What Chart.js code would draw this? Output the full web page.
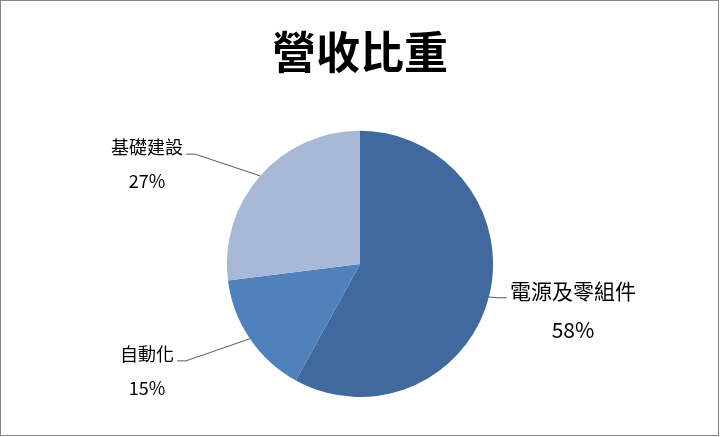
<!DOCTYPE html>
<html>
<head>
<meta charset="utf-8">
<script src="https://cdn.jsdelivr.net/npm/chart.js@4.4.0/dist/chart.umd.min.js"></script>
<style>
  html, body { margin: 0; padding: 0; background: #fff; }
  #wrap { width: 720px; height: 437px; position: relative; }
</style>
</head>
<body>
<div id="wrap"><canvas id="revenuePie"></canvas></div>
<script>
// 營收比重 data
const categories = ['電源及零組件', '自動化', '基礎建設'];
const shares = [58, 15, 27];

const sliceColors = ['#40699E', '#4F81BD', '#A8B9D8'];
const labelSizes = [21, 18, 18];
const fontFamily = '"Noto Sans CJK TC", "Noto Sans", sans-serif';

// Etiquetas fuera del pastel con línea guía (estilo Excel)
const outerLabels = {
  id: 'outerLabels',
  afterDatasetsDraw(chart) {
    const ctx = chart.ctx;
    const meta = chart.getDatasetMeta(0);
    const total = shares.reduce((a, b) => a + b, 0);
    meta.data.forEach((arc, i) => {
      const { x, y, startAngle, endAngle, outerRadius: r } =
        arc.getProps(['x', 'y', 'startAngle', 'endAngle', 'outerRadius'], true);
      const mid = (startAngle + endAngle) / 2;
      const dx = Math.cos(mid), dy = Math.sin(mid);
      const side = dx < 0 ? -1 : 1;
      const size = labelSizes[i];
      const tx = x + side * r * 1.6;
      const ty = y + r * dy * (0.5 + 1.25 * Math.abs(dy));

      ctx.save();
      ctx.font = size + 'px ' + fontFamily;
      const w = ctx.measureText(categories[i]).width;
      const ex = x + r * dx, ey = y + r * dy;
      const sx = tx - side * (w / 2 + 3);
      const ly = ty + 7;
      ctx.strokeStyle = '#595959';
      ctx.lineWidth = 1;
      ctx.beginPath();
      ctx.moveTo(sx, ly);
      ctx.lineTo(sx - side * 9, ly);
      ctx.lineTo(ex, ey);
      ctx.stroke();

      ctx.fillStyle = '#000';
      ctx.textAlign = 'center';
      ctx.textBaseline = 'middle';
      ctx.fillText(categories[i], tx, ty);
      ctx.fillText(Math.round(shares[i] / total * 100) + '%', tx, ty + size * 1.88);
      ctx.restore();
    });
  }
};

const frame = {
  id: 'frame',
  beforeDraw(chart) {
    const ctx = chart.ctx;
    ctx.save();
    ctx.fillStyle = '#fff';
    ctx.fillRect(0, 0, chart.width, chart.height);
    ctx.restore();
  },
  afterDraw(chart) {
    const ctx = chart.ctx;
    ctx.save();
    ctx.strokeStyle = '#868686';
    ctx.lineWidth = 1;
    ctx.strokeRect(0.5, 0.5, chart.width - 2, chart.height - 2);
    ctx.restore();
  }
};

new Chart(document.getElementById('revenuePie'), {
  type: 'pie',
  data: {
    labels: categories,
    datasets: [{
      data: shares,
      backgroundColor: sliceColors,
      borderWidth: 0
    }]
  },
  options: {
    responsive: true,
    maintainAspectRatio: false,
    animation: false,
    layout: { padding: { top: 0, bottom: 40, left: 0, right: 0 } },
    plugins: {
      legend: { display: false },
      tooltip: { enabled: false },
      title: {
        display: true,
        text: '營收比重',
        color: '#000',
        font: { family: fontFamily, size: 44, weight: 'bold', lineHeight: 1.2 },
        padding: { top: 26, bottom: 52 }
      }
    }
  },
  plugins: [frame, outerLabels]
});
</script>
</body>
</html>
